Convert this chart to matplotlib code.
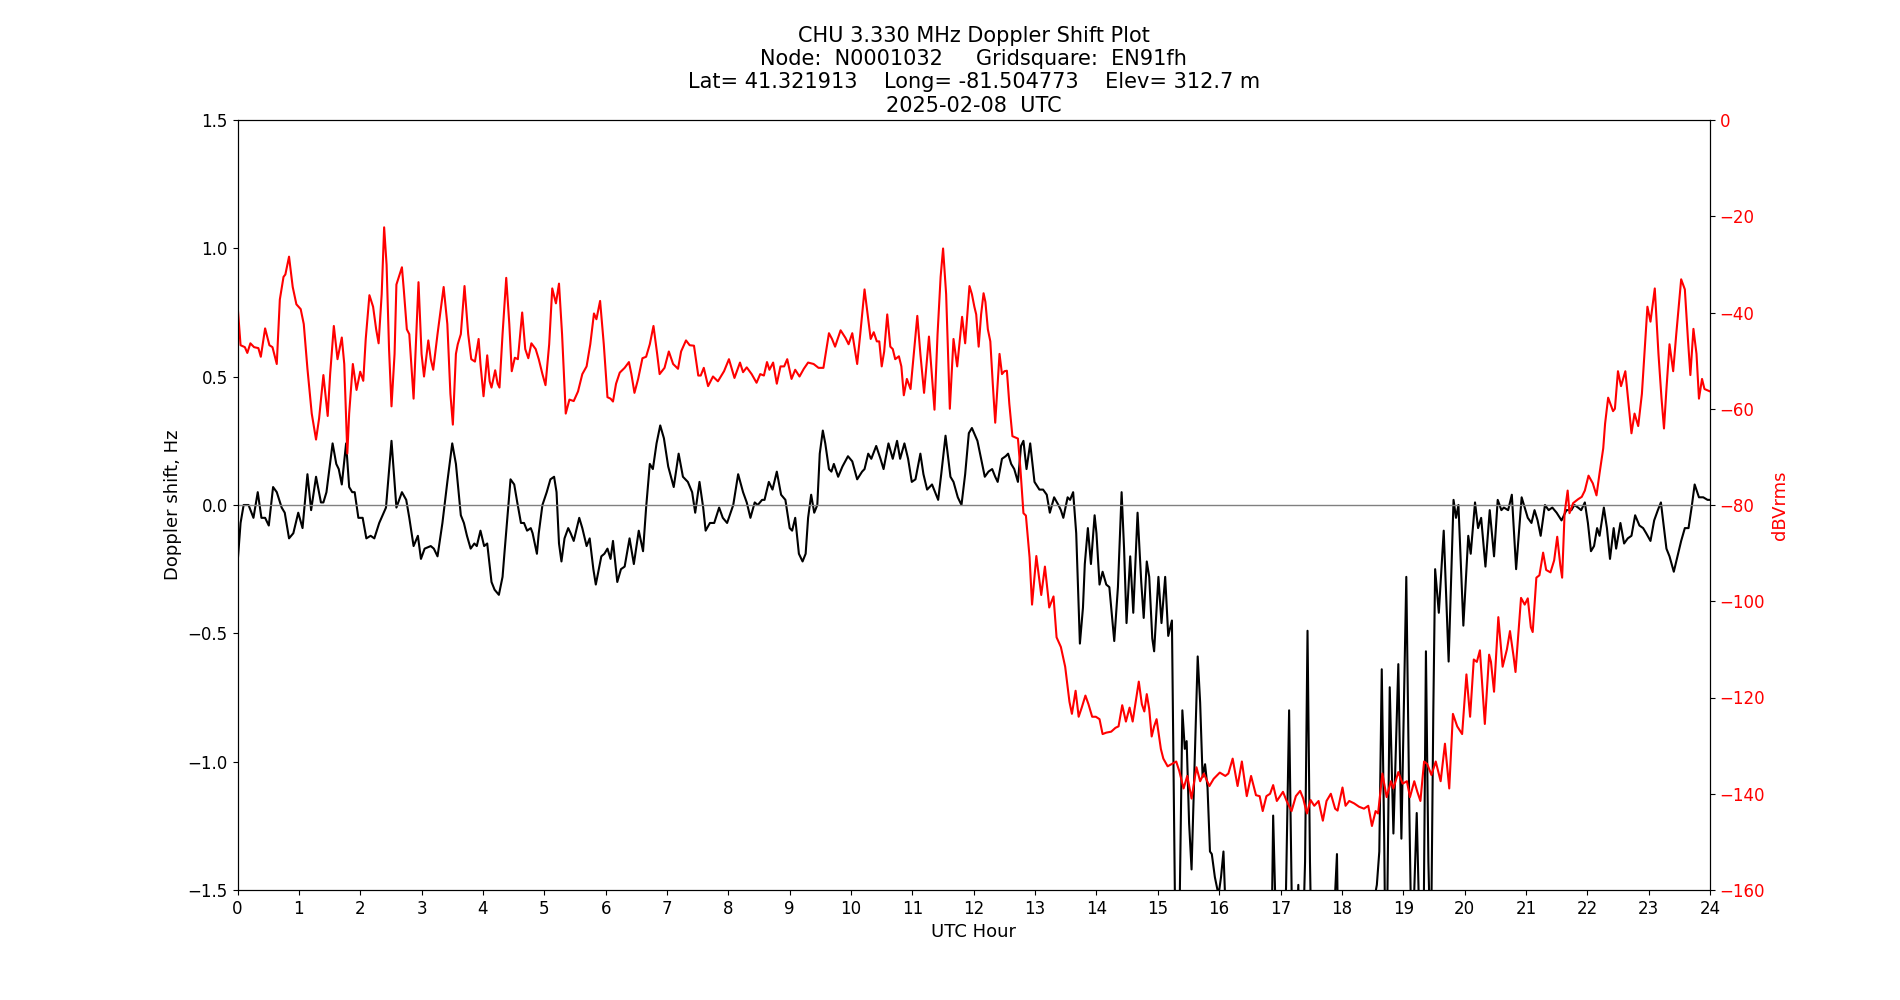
import matplotlib
matplotlib.use("Agg")
import matplotlib.pyplot as plt

# Doppler shift (Hz) vs UTC hour
dop_hour = [
    0.00, 0.05, 0.10, 0.18, 0.26, 0.33, 0.39, 0.45, 0.51, 0.58,
    0.64, 0.72, 0.77, 0.84, 0.91, 0.99, 1.06, 1.14, 1.20, 1.28,
    1.36, 1.40, 1.45, 1.55, 1.61, 1.65, 1.70, 1.77, 1.82, 1.87,
    1.91, 1.97, 2.04, 2.10, 2.17, 2.23, 2.31, 2.42, 2.51, 2.59,
    2.68, 2.75, 2.80, 2.87,
    2.94, 2.99, 3.05, 3.15, 3.20, 3.26, 3.34, 3.42, 3.50, 3.56,
    3.64, 3.69, 3.74, 3.80, 3.86, 3.90, 3.96, 4.02, 4.07, 4.14,
    4.19, 4.26, 4.32, 4.35, 4.45, 4.51, 4.56, 4.62, 4.67, 4.72,
    4.78, 4.81, 4.88, 4.91, 4.97, 5.04, 5.10, 5.16, 5.20, 5.24,
    5.28, 5.33, 5.39, 5.43, 5.48, 5.57, 5.62, 5.69, 5.74, 5.80,
    5.84,
    5.93, 5.98, 6.03, 6.08, 6.12, 6.19, 6.25, 6.31, 6.39, 6.46,
    6.54, 6.61, 6.66, 6.72, 6.77, 6.83, 6.89, 6.95, 7.02, 7.11,
    7.19, 7.26, 7.34, 7.41, 7.46, 7.53, 7.59, 7.63, 7.70, 7.77,
    7.85, 7.91, 7.98, 8.08, 8.16, 8.24, 8.30, 8.36, 8.43, 8.48,
    8.55, 8.59, 8.66, 8.72, 8.79, 8.86, 8.93, 9.00,
    9.04, 9.09, 9.15, 9.21, 9.26, 9.30, 9.35, 9.40, 9.45, 9.49,
    9.54, 9.58, 9.64, 9.68, 9.72, 9.79, 9.86, 9.95, 10.02, 10.10,
    10.18, 10.22, 10.28, 10.33, 10.41, 10.48, 10.53, 10.61, 10.68, 10.75,
    10.80, 10.87, 10.93, 10.99, 11.05, 11.13, 11.18, 11.24, 11.32, 11.42,
    11.47, 11.54, 11.62, 11.67, 11.74, 11.80, 11.86, 11.92, 11.97,
    12.06, 12.12, 12.18, 12.24, 12.30, 12.35, 12.39, 12.46, 12.52, 12.56,
    12.61, 12.66, 12.72, 12.77, 12.81, 12.86, 12.92, 12.99, 13.07, 13.13,
    13.19, 13.24, 13.31, 13.38, 13.42, 13.46, 13.53, 13.57, 13.62, 13.67,
    13.73, 13.78, 13.81, 13.86, 13.91, 13.97, 14.00, 14.05, 14.10, 14.16,
    14.21, 14.29, 14.35, 14.41, 14.45, 14.49, 14.55, 14.60, 14.67, 14.73,
    14.77, 14.82, 14.86, 14.91, 14.94, 15.01,
    15.06, 15.12, 15.17, 15.23, 15.26, 15.30, 15.34, 15.36, 15.40, 15.44,
    15.47, 15.51, 15.55, 15.60, 15.65, 15.69, 15.73, 15.77, 15.81, 15.85,
    15.88, 15.93, 15.99, 16.03, 16.07, 16.10, 16.15, 16.40, 16.70, 16.86,
    16.88, 16.92, 16.97, 17.09, 17.14, 17.18, 17.21, 17.29, 17.33, 17.40,
    17.44, 17.48, 17.54, 17.75, 17.89, 17.92, 17.94, 18.05,
    18.20, 18.54, 18.57, 18.61, 18.65, 18.69, 18.72, 18.78, 18.84, 18.92,
    18.97, 19.05, 19.10, 19.14, 19.22, 19.27, 19.32, 19.37, 19.41, 19.45,
    19.49, 19.52, 19.58, 19.66, 19.74, 19.82, 19.86, 19.90, 19.98, 20.06,
    20.10, 20.17, 20.22, 20.27, 20.34, 20.41, 20.48, 20.54, 20.60, 20.64,
    20.71, 20.77, 20.84,
    20.93, 20.98, 21.03, 21.09, 21.14, 21.19, 21.24, 21.31, 21.37, 21.43,
    21.50, 21.58, 21.66, 21.74, 21.79, 21.85, 21.90, 21.96, 22.01, 22.06,
    22.11, 22.16, 22.20, 22.27, 22.32, 22.37, 22.43, 22.47, 22.54, 22.60,
    22.66, 22.72, 22.78, 22.85, 22.91, 22.96, 23.03, 23.09, 23.15, 23.20,
    23.25, 23.29, 23.34, 23.41, 23.48, 23.53, 23.59, 23.65, 23.70, 23.75,
    23.82, 23.89, 23.96, 24.00,
]
dop_hz = [
    -0.23, -0.07, 0.00, 0.00, -0.05, 0.05, -0.05, -0.05, -0.08, 0.07,
    0.05, -0.01, -0.03, -0.13, -0.11, -0.03, -0.09, 0.12, -0.02, 0.11,
    0.01, 0.01, 0.05, 0.24, 0.16, 0.14, 0.08, 0.24, 0.07, 0.05,
    0.05, -0.05, -0.05, -0.13, -0.12, -0.13, -0.07, -0.01, 0.25, -0.01,
    0.05, 0.02, -0.05, -0.16,
    -0.12, -0.21, -0.17, -0.16, -0.17, -0.20, -0.07, 0.09, 0.24, 0.16,
    -0.04, -0.07, -0.12, -0.17, -0.15, -0.16, -0.10, -0.16, -0.15, -0.30,
    -0.33, -0.35, -0.28, -0.19, 0.10, 0.08, 0.01, -0.07, -0.07, -0.10,
    -0.09, -0.11, -0.19, -0.11, 0.00, 0.05, 0.10, 0.11, 0.05, -0.15,
    -0.22, -0.13, -0.09, -0.11, -0.14, -0.05, -0.09, -0.16, -0.13, -0.25,
    -0.31,
    -0.20, -0.19, -0.17, -0.21, -0.14, -0.30, -0.25, -0.24, -0.13, -0.23,
    -0.10, -0.18, -0.01, 0.16, 0.14, 0.24, 0.31, 0.26, 0.15, 0.07,
    0.20, 0.11, 0.09, 0.05, -0.03, 0.09, -0.01, -0.10, -0.07, -0.07,
    -0.01, -0.05, -0.07, 0.00, 0.12, 0.05, 0.01, -0.05, 0.01, 0.00,
    0.02, 0.02, 0.09, 0.06, 0.13, 0.04, 0.02, -0.09,
    -0.10, -0.05, -0.19, -0.22, -0.19, -0.05, 0.04, -0.03, 0.00, 0.20,
    0.29, 0.24, 0.14, 0.13, 0.16, 0.11, 0.15, 0.19, 0.17, 0.10,
    0.13, 0.14, 0.20, 0.18, 0.23, 0.18, 0.14, 0.24, 0.18, 0.25,
    0.18, 0.24, 0.18, 0.09, 0.10, 0.20, 0.12, 0.06, 0.08, 0.02,
    0.12, 0.27, 0.11, 0.09, 0.03, 0.00, 0.12, 0.28, 0.30,
    0.25, 0.18, 0.11, 0.13, 0.14, 0.11, 0.09, 0.18, 0.19, 0.20,
    0.16, 0.14, 0.09, 0.23, 0.25, 0.14, 0.24, 0.09, 0.06, 0.06,
    0.04, -0.03, 0.03, 0.00, -0.02, -0.05, 0.03, 0.02, 0.05, -0.11,
    -0.54, -0.40, -0.23, -0.09, -0.23, -0.04, -0.11, -0.31, -0.26, -0.31,
    -0.32, -0.53, -0.32, 0.05, -0.17, -0.46, -0.20, -0.42, -0.03, -0.30,
    -0.44, -0.22, -0.28, -0.52, -0.57, -0.28,
    -0.46, -0.28, -0.51, -0.45, -1.10, -2.00, -2.00, -1.49, -0.80, -0.95,
    -0.92, -1.24, -1.42, -1.00, -0.59, -0.77, -1.06, -1.01, -1.10, -1.35,
    -1.36, -1.45, -1.52, -1.45, -1.35, -1.55, -2.20, -2.50, -2.20, -1.59,
    -1.21, -1.59, -2.30, -1.49, -0.80, -1.49, -2.00, -1.48, -2.00, -1.39,
    -0.49, -1.39, -2.20, -2.40, -1.51, -1.36, -1.70, -2.20,
    -2.30, -1.52, -1.48, -1.35, -0.64, -1.30, -2.00, -0.71, -1.28, -0.62,
    -1.30, -0.28, -1.20, -1.80, -1.20, -1.70, -2.00, -0.57, -1.39, -1.80,
    -0.81, -0.25, -0.42, -0.10, -0.61, 0.02, -0.05, 0.00, -0.47, -0.12,
    -0.19, 0.01, -0.09, -0.05, -0.24, -0.02, -0.20, 0.02, -0.02, -0.01,
    -0.02, 0.04, -0.25,
    0.03, -0.01, -0.05, -0.07, -0.02, -0.06, -0.12, 0.00, -0.02, -0.01,
    -0.03, -0.06, -0.02, -0.02, 0.00, -0.01, -0.02, 0.01, -0.07, -0.18,
    -0.16, -0.09, -0.12, -0.01, -0.09, -0.21, -0.09, -0.17, -0.07, -0.15,
    -0.13, -0.12, -0.04, -0.08, -0.09, -0.11, -0.14, -0.06, -0.02, 0.01,
    -0.09, -0.17, -0.20, -0.26, -0.19, -0.14, -0.09, -0.09, -0.01, 0.08,
    0.03, 0.03, 0.02, 0.02,
]

# received level (dBVrms) vs UTC hour
pwr_hour = [
    0.00, 0.05, 0.12, 0.16, 0.21, 0.27, 0.34, 0.38, 0.45, 0.52,
    0.57, 0.64, 0.69, 0.75, 0.78, 0.84, 0.90, 0.96, 1.03, 1.08,
    1.14, 1.21, 1.28, 1.33, 1.40, 1.47, 1.51, 1.57, 1.63, 1.70,
    1.74, 1.79, 1.82, 1.88, 1.94, 2.00, 2.05, 2.09, 2.15, 2.21,
    2.26, 2.30, 2.35, 2.39, 2.43, 2.47, 2.51, 2.56, 2.59, 2.68,
    2.71, 2.76, 2.80, 2.87,
    2.95, 3.00, 3.04, 3.11, 3.15, 3.19, 3.26, 3.36, 3.42, 3.47,
    3.51, 3.56, 3.59, 3.64, 3.70, 3.76, 3.81, 3.87, 3.93, 3.96,
    4.01, 4.07, 4.11, 4.14, 4.20, 4.24, 4.27, 4.32, 4.38, 4.43,
    4.47, 4.52, 4.57, 4.64, 4.69, 4.74, 4.79, 4.86, 4.91, 4.97,
    5.02, 5.08, 5.13, 5.19, 5.24, 5.29, 5.35, 5.41, 5.48, 5.55,
    5.62, 5.69, 5.75, 5.81, 5.85, 5.91, 5.97, 6.03,
    6.08, 6.12, 6.17, 6.23, 6.31, 6.38, 6.42, 6.47, 6.53, 6.60,
    6.66, 6.72, 6.78, 6.84, 6.88, 6.96, 7.03, 7.10, 7.18, 7.23,
    7.31, 7.37, 7.44, 7.51, 7.55, 7.60, 7.67, 7.75, 7.83, 7.93,
    8.01, 8.10, 8.19, 8.24, 8.30, 8.38, 8.46, 8.52, 8.58, 8.63,
    8.67, 8.73, 8.79, 8.85, 8.91, 8.96, 9.03,
    9.09, 9.16, 9.23, 9.30, 9.39, 9.47, 9.55, 9.64, 9.69, 9.74,
    9.83, 9.91, 9.96, 10.02, 10.10, 10.15, 10.22, 10.27, 10.32, 10.37,
    10.42, 10.46, 10.50, 10.54, 10.59, 10.64, 10.68, 10.72, 10.78, 10.82,
    10.86, 10.91, 10.97, 11.03, 11.08, 11.13, 11.19, 11.27, 11.31, 11.36,
    11.41, 11.46, 11.50, 11.55, 11.61, 11.67, 11.73, 11.81, 11.86, 11.93,
    11.97, 12.01, 12.04,
    12.08, 12.12, 12.16, 12.19, 12.23, 12.27, 12.31, 12.35, 12.39, 12.42,
    12.46, 12.50, 12.54, 12.58, 12.63, 12.72, 12.76, 12.81, 12.85, 12.91,
    12.95, 13.02, 13.06, 13.10, 13.16, 13.21, 13.23, 13.30, 13.35, 13.42,
    13.49, 13.56, 13.60, 13.66, 13.71, 13.76, 13.82, 13.87, 13.93, 13.99,
    14.05, 14.10, 14.16, 14.24, 14.31, 14.36, 14.42, 14.48, 14.54, 14.59,
    14.64, 14.69, 14.74, 14.78, 14.82, 14.86, 14.90, 14.94, 14.98, 15.05,
    15.09, 15.16, 15.23, 15.30, 15.35, 15.42, 15.48, 15.55, 15.63, 15.69,
    15.75, 15.84, 15.91, 16.01, 16.10, 16.15, 16.22, 16.30, 16.37, 16.45,
    16.52, 16.60, 16.66, 16.71, 16.77, 16.83, 16.88, 16.94, 17.04, 17.10,
    17.18, 17.25, 17.32, 17.37, 17.43, 17.49, 17.55, 17.62, 17.69, 17.75,
    17.82, 17.89, 17.93, 18.01,
    18.06, 18.12, 18.20, 18.28, 18.36, 18.43, 18.49, 18.55, 18.59, 18.66,
    18.73, 18.80, 18.84, 18.92, 18.99, 19.06, 19.11, 19.18, 19.23, 19.28,
    19.34, 19.39, 19.46, 19.53, 19.61, 19.68, 19.75, 19.81, 19.88, 19.96,
    20.03, 20.09, 20.15, 20.20, 20.25, 20.33, 20.40, 20.43, 20.48, 20.55,
    20.62, 20.69, 20.74, 20.80, 20.83,
    20.92, 20.98, 21.03, 21.08, 21.11, 21.17, 21.22, 21.28, 21.33, 21.40,
    21.46, 21.51, 21.56, 21.59, 21.63, 21.68, 21.71, 21.77, 21.85, 21.91,
    21.96, 22.02, 22.09, 22.15, 22.20, 22.26, 22.29, 22.34, 22.42, 22.45,
    22.50, 22.55, 22.62, 22.68, 22.72, 22.77, 22.83, 22.89, 22.98, 23.03,
    23.10, 23.16, 23.21, 23.25, 23.29, 23.34, 23.40, 23.45, 23.53, 23.59,
    23.64, 23.68, 23.73, 23.78, 23.82, 23.87, 23.91, 24.00,
]
pwr_db = [
    -38.3, -46.8, -47.2, -48.4, -46.4, -47.2, -47.4, -49.2, -43.3, -46.8,
    -47.2, -50.7, -37.3, -32.6, -32.1, -28.4, -34.7, -38.3, -39.3, -42.4,
    -51.7, -61.0, -66.4, -62.0, -53.0, -61.5, -52.8, -42.8, -49.7, -45.2,
    -50.7, -69.3, -61.0, -50.7, -56.1, -52.3, -54.2, -45.5, -36.4, -38.8,
    -43.5, -46.4, -36.2, -22.3, -30.1, -47.6, -59.5, -48.6, -34.2, -30.6,
    -35.2, -43.5, -44.5, -57.9,
    -33.7, -48.6, -53.3, -45.8, -49.7, -51.9, -44.5, -34.7, -42.4, -56.9,
    -63.3, -48.6, -46.6, -44.5, -34.5, -44.5, -49.7, -50.2, -45.5, -50.7,
    -57.4, -48.9, -54.3, -55.6, -52.0, -54.8, -55.6, -44.5, -32.8, -42.4,
    -52.2, -49.4, -49.7, -40.0, -47.6, -49.5, -46.4, -47.6, -49.7, -52.8,
    -55.1, -46.6, -35.0, -38.1, -34.0, -44.5, -61.0, -58.1, -58.4, -56.4,
    -52.8, -51.2, -46.6, -40.2, -41.4, -37.6, -46.6, -57.6,
    -57.9, -58.5, -54.8, -52.5, -51.5, -50.3, -52.8, -56.7, -53.8, -49.5,
    -49.2, -46.6, -42.8, -48.6, -52.8, -51.5, -48.1, -50.7, -51.7, -48.1,
    -45.8, -46.8, -46.9, -53.1, -53.1, -51.5, -55.3, -53.3, -54.3, -52.2,
    -49.7, -53.6, -50.4, -52.4, -51.4, -52.8, -54.6, -52.8, -53.1, -50.3,
    -51.9, -50.4, -54.8, -51.2, -51.2, -49.7, -53.8,
    -51.9, -53.3, -51.7, -50.4, -50.7, -51.5, -51.5, -44.3, -45.5, -47.1,
    -43.7, -45.3, -46.6, -44.3, -50.7, -44.5, -35.2, -40.4, -45.5, -44.1,
    -46.0, -46.0, -51.2, -48.1, -40.4, -47.1, -47.6, -49.7, -49.1, -51.2,
    -57.2, -53.8, -55.9, -47.6, -40.7, -48.6, -56.7, -45.0, -51.7, -60.2,
    -44.5, -32.6, -26.7, -36.2, -60.0, -45.5, -51.2, -40.9, -46.4, -34.5,
    -36.2, -38.8, -40.4,
    -47.1, -40.4, -36.0, -37.8, -43.5, -46.0, -54.8, -62.9, -54.8, -48.6,
    -52.8, -52.2, -52.1, -59.0, -65.7, -66.2, -72.4, -81.7, -82.2, -90.9,
    -100.7, -90.6, -94.6, -98.7, -92.8, -98.7, -101.3, -99.0, -107.5, -109.5,
    -113.6, -120.9, -123.4, -118.6, -124.0, -122.1, -119.6, -121.4, -124.0, -124.0,
    -124.5, -127.6, -127.3, -127.1, -126.3, -126.0, -121.6, -125.0, -122.1, -125.0,
    -120.9, -116.7, -121.4, -122.9, -119.3, -122.4, -128.1, -126.0, -124.5, -130.7,
    -132.7, -134.3, -133.8, -133.3, -135.3, -138.9, -136.3, -141.0, -134.5, -137.4,
    -135.8, -138.4, -136.9, -135.6, -136.3, -135.8, -132.7, -138.4, -133.3, -140.5,
    -136.3, -140.3, -140.5, -143.6, -140.5, -140.0, -138.2, -141.5, -139.6, -141.5,
    -143.6, -140.5, -139.4, -141.0, -144.1, -141.3, -142.5, -141.5, -145.6, -141.5,
    -140.0, -143.1, -143.5, -138.7,
    -142.5, -141.5, -142.0, -142.7, -143.1, -142.5, -146.7, -143.6, -144.1, -135.8,
    -140.7, -137.4, -138.9, -135.5, -137.9, -137.4, -140.7, -137.4, -139.6, -141.5,
    -133.3, -133.8, -136.1, -133.3, -137.4, -129.6, -138.9, -123.4, -126.0, -127.6,
    -115.2, -124.0, -112.1, -112.6, -110.2, -125.5, -111.1, -112.6, -118.8, -103.3,
    -113.6, -110.0, -106.2, -111.6, -114.7,
    -99.3, -100.7, -99.4, -105.4, -106.4, -95.1, -94.6, -89.9, -93.5, -94.0,
    -91.5, -86.6, -92.5, -95.1, -81.7, -77.0, -81.7, -79.6, -78.8, -78.3,
    -77.0, -73.9, -75.5, -78.0, -73.4, -68.2, -63.1, -57.7, -60.5, -60.0,
    -52.2, -55.3, -52.2, -60.0, -65.1, -61.0, -63.6, -56.9, -38.8, -41.9,
    -35.0, -48.6, -57.9, -64.1, -55.9, -46.6, -52.2, -44.5, -33.1, -35.2,
    -45.5, -53.0, -43.4, -48.6, -57.9, -53.8, -55.9, -56.4,
]

hour_ticks = list(range(0, 25))

title = ("CHU 3.330 MHz Doppler Shift Plot\n"
         "Node:  N0001032     Gridsquare:  EN91fh\n"
         "Lat= 41.321913    Long= -81.504773    Elev= 312.7 m\n"
         "2025-02-08  UTC")

fig, ax1 = plt.subplots(figsize=(19, 10), dpi=100)

ax1.plot(dop_hour, dop_hz, color="black", linewidth=1.5)
ax1.axhline(0, color="grey", linewidth=1)
ax1.set_xlim(0, 24)
ax1.set_ylim(-1.5, 1.5)
ax1.set_xticks(hour_ticks)
ax1.set_xlabel("UTC Hour", fontsize=13)
ax1.set_ylabel("Doppler shift, Hz", fontsize=13)
ax1.tick_params(labelsize=12)
ax1.set_title(title, fontsize=15)

ax2 = ax1.twinx()
ax2.plot(pwr_hour, pwr_db, color="red", linewidth=1.5)
ax2.set_ylim(-160, 0)
ax2.set_ylabel("dBVrms", color="red", fontsize=13)
ax2.tick_params(axis="y", labelcolor="red", labelsize=12)

fig.savefig("out.png")
